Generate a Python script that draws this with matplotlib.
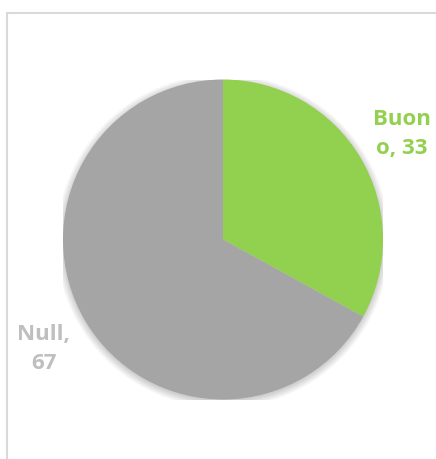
import matplotlib.pyplot as plt
from matplotlib.patches import Circle, Rectangle

labels = ["Buono", "Null"]
values = [33, 67]
colors = ["#92D050", "#A5A5A5"]
label_colors = ["#92D050", "#BFBFBF"]
label_text = ["Buon\no, 33", "Null,\n67"]

W, H = 436, 459
fig = plt.figure(figsize=(W / 100, H / 100), dpi=100)
fig.patch.set_facecolor("white")

# cornice del grafico (solo bordo sinistro e superiore visibili)
fig.add_artist(Rectangle((7 / W, -0.1), 1.2, 1 - 13 / H + 0.1, transform=fig.transFigure,
                         fill=False, edgecolor="#D9D9D9", linewidth=1.5))

cx, cy, r = 223, 239.5, 160
ax = fig.add_axes([(cx - r) / W, (H - cy - r) / H, 2 * r / W, 2 * r / H])

# ombra leggera
for k in range(8):
    ax.add_patch(Circle((0.0, -0.01), 1.0 + 0.006 * k, color="black", alpha=0.022, zorder=0, lw=0))

wedges, _ = ax.pie(values, colors=colors, startangle=90, counterclock=False,
                   radius=1, center=(0, 0), frame=True,
                   wedgeprops=dict(linewidth=0, zorder=2))
ax.set_xlim(-1, 1)
ax.set_ylim(-1, 1)
ax.set_aspect("equal")
ax.axis("off")

pos = [(1.12, 0.66), (-1.12, -0.685)]
for txt, c, (x, y) in zip(label_text, label_colors, pos):
    ax.text(x, y, txt, color=c, fontsize=16, fontweight="bold", family="Open Sans",
            ha="center", va="center", linespacing=1.5, clip_on=False)

fig.savefig("out.png", dpi=100)
